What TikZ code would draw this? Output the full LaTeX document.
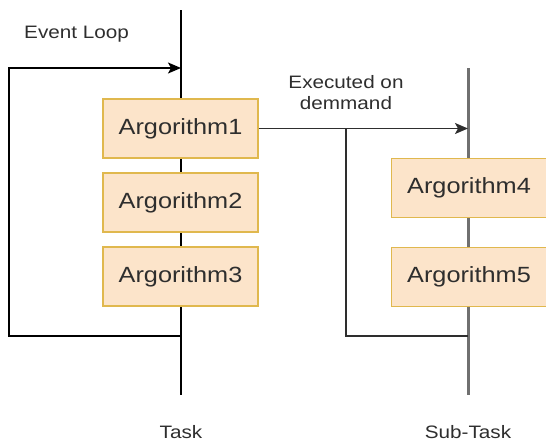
\documentclass[tikz,border=0pt]{standalone}
\usepackage{fontspec}
\setmainfont{Liberation Sans}[FakeStretch=1.15]
\usetikzlibrary{arrows.meta}
\definecolor{boxfill}{HTML}{FCE4CA}
\definecolor{boxdraw}{HTML}{E0B84E}
\definecolor{txt}{HTML}{2E2E2E}
\definecolor{subline}{HTML}{707070}
\tikzset{
  algbox/.style={draw=boxdraw, fill=boxfill, line width=1.4pt, minimum width=155pt, minimum height=59pt, inner sep=0pt, text=txt, font=\fontsize{22}{24}\selectfont},
  lbl/.style={text=txt, font=\fontsize{18}{21}\selectfont, inner sep=0pt, align=center},
  tip/.style={-{Stealth[length=13pt,width=11pt,inset=3pt]}}
}
\begin{document}
\begin{tikzpicture}[x=1pt,y=-1pt]
\useasboundingbox (0,0) rectangle (546,445);
% lifelines
\coordinate (tTop) at (181,10);
\coordinate (tBot) at (181,395);
\coordinate (sTop) at (468,68);
\coordinate (sBot) at (468,395);
\draw[line width=1.6pt, black] (tTop) -- (tBot);
\draw[line width=3pt, subline] (sTop) -- (sBot);
% event loop
\coordinate (lA) at (181,336);
\coordinate (lB) at (9,336);
\coordinate (lC) at (9,68);
\coordinate (lD) at (181,68);
\draw[line width=1.6pt, black, tip] (lA) -- (lB) -- (lC) -- (lD);
\node[lbl, anchor=west] (evl) at (24,34) {Event Loop};
% boxes
\node[algbox] (a1) at (180.5,128.5) {Argorithm1};
\node[algbox] (a2) at (180.5,202.5) {Argorithm2};
\node[algbox] (a3) at (180.5,276.5) {Argorithm3};
\node[algbox] (a4) at (469,188) {Argorithm4};
\node[algbox] (a5) at (469,277) {Argorithm5};
% on-demand arrow
\coordinate (dEnd) at (468,128.5);
\coordinate (br) at (346,128.5);
\coordinate (brB) at (346,336);
\coordinate (brE) at (468,336);
\draw[line width=1.6pt, txt, tip] (a1.east) -- (dEnd);
\draw[line width=1.6pt, txt] (br) -- (brB) -- (brE);
\node[lbl] (exe) at (346,93) {Executed on\\demmand};
% labels
\node[lbl] (task) at (181,432) {Task};
\node[lbl] (sub) at (468,432) {Sub-Task};
\end{tikzpicture}
\end{document}
